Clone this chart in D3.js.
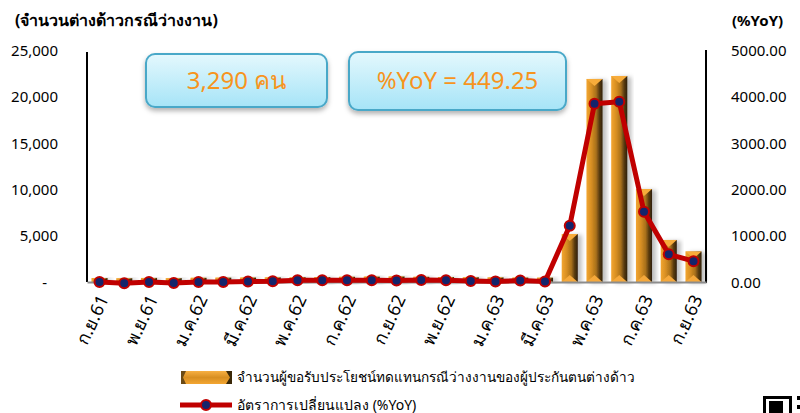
<!DOCTYPE html>
<html>
<head>
<meta charset="utf-8">
<script src="https://cdn.jsdelivr.net/npm/d3@7/dist/d3.min.js"></script>
<style>
  body { margin: 0; background: #fff; }
  svg text { font-family: Tahoma, "Noto Sans", "DejaVu Sans", sans-serif; fill: #000; }
</style>
</head>
<body>
<div class="chart-container"></div>
<script>
// months Sep 2018 - Sep 2020 (Thai abbreviations)
var months = ['ก.ย.61','ต.ค.61','พ.ย.61','ธ.ค.61','ม.ค.62','ก.พ.62','มี.ค.62','เม.ย.62','พ.ค.62','มิ.ย.62','ก.ค.62','ส.ค.62',
              'ก.ย.62','ต.ค.62','พ.ย.62','ธ.ค.62','ม.ค.63','ก.พ.63','มี.ค.63','เม.ย.63','พ.ค.63','มิ.ย.63','ก.ค.63','ส.ค.63','ก.ย.63'];
// number of foreign insured receiving unemployment benefit
var counts = [430, 410, 440, 420, 450, 470, 480, 500, 520, 540, 560, 580,
              599, 560, 540, 520, 500, 480, 470, 5170, 21880, 22200, 10020, 4530, 3290];
// %YoY
var yoy = [0, -28, 0, -22, 0, 0, 9, 15, 37, 37, 37, 37,
           30, 43, 37, 22, 9, 30, 9, 1213, 3843, 3886, 1515, 597, 449.25];
var leftTicks = [0, 5000, 10000, 15000, 20000, 25000];
var rightTicks = [0, 1000, 2000, 3000, 4000, 5000];
var labelMonths = months.filter(function(d, i) { return i % 2 === 0; });

var legendBar = 'จำนวนผู้ขอรับประโยชน์ทดแทนกรณีว่างงานของผู้ประกันตนต่างด้าว';
var legendLine = 'อัตราการเปลี่ยนแปลง (%YoY)';

var width = 800, height = 413;
var margin = {top: 50, right: 94, bottom: 131, left: 87};

var svg = d3.select('.chart-container').append('svg')
    .attr('width', width)
    .attr('height', height);

var defs = svg.append('defs');

var barGrad = defs.append('linearGradient').attr('id', 'barGrad')
    .attr('x1', '0%').attr('x2', '100%').attr('y1', '0%').attr('y2', '0%');
barGrad.append('stop').attr('offset', '0%').attr('stop-color', '#f3a632');
barGrad.append('stop').attr('offset', '30%').attr('stop-color', '#d88f22');
barGrad.append('stop').attr('offset', '60%').attr('stop-color', '#a8701c');
barGrad.append('stop').attr('offset', '80%').attr('stop-color', '#5a3c10');
barGrad.append('stop').attr('offset', '100%').attr('stop-color', '#2e1f08');

var boxGrad = defs.append('linearGradient').attr('id', 'boxGrad')
    .attr('x1', '0%').attr('x2', '0%').attr('y1', '0%').attr('y2', '100%');
boxGrad.append('stop').attr('offset', '0%').attr('stop-color', '#e4f8fd');
boxGrad.append('stop').attr('offset', '100%').attr('stop-color', '#a6e4f7');

var legGrad = defs.append('linearGradient').attr('id', 'legGrad')
    .attr('x1', '0%').attr('x2', '0%').attr('y1', '0%').attr('y2', '100%');
legGrad.append('stop').attr('offset', '0%').attr('stop-color', '#f7b043');
legGrad.append('stop').attr('offset', '50%').attr('stop-color', '#d88f22');
legGrad.append('stop').attr('offset', '100%').attr('stop-color', '#f3a632');

var shadow = defs.append('filter').attr('id', 'shadow')
    .attr('x', '-20%').attr('y', '-20%').attr('width', '160%').attr('height', '160%');
shadow.append('feDropShadow').attr('dx', 4).attr('dy', 1).attr('stdDeviation', 2)
    .attr('flood-color', '#000').attr('flood-opacity', 0.25);

var boxShadow = defs.append('filter').attr('id', 'boxShadow')
    .attr('x', '-10%').attr('y', '-20%').attr('width', '120%').attr('height', '150%');
boxShadow.append('feDropShadow').attr('dx', 0).attr('dy', 3).attr('stdDeviation', 2.5)
    .attr('flood-color', '#000').attr('flood-opacity', 0.3);

var x = d3.scaleBand().domain(months)
    .range([margin.left, width - margin.right])
    .paddingInner(0.35).paddingOuter(0.18);
var yL = d3.scaleLinear().domain([0, 25000]).range([height - margin.bottom, margin.top]);
var yR = d3.scaleLinear().domain([0, 5000]).range([height - margin.bottom, margin.top]);
var base = yL(0);

/// bars
var bars = svg.append('g').attr('class', 'bars');
var bar = bars.selectAll('.bar')
    .data(counts)
    .enter().append('g')
    .attr('class', 'bar')
    .attr('filter', 'url(#shadow)');

bar.append('rect')
    .attr('x', function(d, i) { return x(months[i]); })
    .attr('y', function(d) { return yL(d); })
    .attr('width', x.bandwidth())
    .attr('height', function(d) { return base - yL(d); })
    .attr('fill', 'url(#barGrad)');

// bevel caps top and bottom
bar.append('path')
    .attr('fill', '#f7ac3a')
    .attr('d', function(d, i) {
        var x0 = x(months[i]), w = x.bandwidth(), t = yL(d);
        var h = Math.min(7, (base - t) / 2);
        return 'M' + x0 + ',' + t + 'L' + (x0 + w) + ',' + t + 'L' + (x0 + w / 2) + ',' + (t + h) + 'Z';
    });
bar.append('path')
    .attr('fill', '#f5a83a')
    .attr('d', function(d, i) {
        var x0 = x(months[i]), w = x.bandwidth(), t = yL(d);
        var h = Math.min(7, (base - t) / 2);
        return 'M' + x0 + ',' + base + 'L' + (x0 + w) + ',' + base + 'L' + (x0 + w / 2) + ',' + (base - h) + 'Z';
    });

/// axes
var axisL = svg.append('g')
    .attr('class', 'axis axis--left')
    .attr('transform', 'translate(' + margin.left + ',0)')
    .call(d3.axisLeft(yL).tickValues(leftTicks).tickSize(0).tickPadding(29)
        .tickFormat(function(d) { return d === 0 ? '-' : d3.format(',')(d); }));
axisL.select('.domain').attr('stroke', '#000').attr('stroke-width', 2).attr('d', 'M0,' + (margin.top + 2) + 'V' + base);
axisL.selectAll('text').style('font-size', '15px').attr('dy', '0.35em');
axisL.selectAll('.tick').filter(function(d) { return d === 0; }).select('text').attr('x', -40);

var axisR = svg.append('g')
    .attr('class', 'axis axis--right')
    .attr('transform', 'translate(' + (width - margin.right) + ',0)')
    .call(d3.axisRight(yR).tickValues(rightTicks).tickSize(0).tickPadding(25)
        .tickFormat(d3.format('.2f')));
axisR.select('.domain').attr('stroke', '#000').attr('stroke-width', 2).attr('d', 'M0,' + margin.top + 'V' + (base + 1));
axisR.selectAll('text').style('font-size', '15px').attr('dy', '0.35em');

var axisB = svg.append('g')
    .attr('class', 'axis axis--x')
    .attr('transform', 'translate(0,' + base + ')')
    .call(d3.axisBottom(x).tickValues(labelMonths).tickSize(0).tickPadding(0));
axisB.select('.domain').attr('stroke', '#8c8c8c').attr('stroke-width', 2);
axisB.selectAll('text')
    .style('font-size', '18px')
    .attr('text-anchor', 'end')
    .attr('dy', '0.35em')
    .attr('transform', 'translate(4,14) rotate(-65)')
    .attr('x', 0).attr('y', 0);

/// line
var line = d3.line()
    .x(function(d, i) { return x(months[i]) + x.bandwidth() / 2; })
    .y(function(d) { return yR(d); });

svg.append('path')
    .datum(yoy)
    .attr('class', 'line')
    .attr('fill', 'none')
    .attr('stroke', '#c00000')
    .attr('stroke-width', 5)
    .attr('stroke-linejoin', 'round')
    .attr('d', line);

svg.selectAll('.dot')
    .data(yoy)
    .enter().append('circle')
    .attr('class', 'dot')
    .attr('cx', function(d, i) { return x(months[i]) + x.bandwidth() / 2; })
    .attr('cy', function(d) { return yR(d); })
    .attr('r', 5)
    .attr('fill', '#14246b')
    .attr('stroke', '#c00000')
    .attr('stroke-width', 2);

/// axis titles
svg.append('text')
    .attr('x', 15).attr('y', 26)
    .style('font-size', '16px').style('font-weight', 'bold')
    .text('(จำนวนต่างด้าวกรณีว่างงาน)');
svg.append('text')
    .attr('x', 732).attr('y', 26)
    .style('font-size', '15px').style('font-weight', 'bold')
    .text('(%YoY)');

/// call-out boxes
var lastCount = counts[counts.length - 1], lastYoy = yoy[yoy.length - 1];
var boxes = [
    {x: 146, y: 54, w: 181, h: 53, text: d3.format(',')(lastCount) + ' คน'},
    {x: 349, y: 52, w: 217, h: 58, text: '%YoY = ' + d3.format('.2f')(lastYoy)}
];
var box = svg.selectAll('.callout')
    .data(boxes)
    .enter().append('g')
    .attr('class', 'callout');
box.append('rect')
    .attr('x', function(d) { return d.x; })
    .attr('y', function(d) { return d.y; })
    .attr('width', function(d) { return d.w; })
    .attr('height', function(d) { return d.h; })
    .attr('rx', 9)
    .attr('fill', 'url(#boxGrad)')
    .attr('stroke', '#4aa8c8')
    .attr('stroke-width', 2)
    .attr('filter', 'url(#boxShadow)');
box.append('text')
    .attr('x', function(d) { return d.x + d.w / 2; })
    .attr('y', function(d) { return d.y + d.h / 2; })
    .attr('dy', '0.35em')
    .attr('text-anchor', 'middle')
    .style('font-size', '24px')
    .style('fill', '#f7941d')
    .text(function(d) { return d.text; });

/// legend
var legend = svg.append('g').attr('class', 'legend');
legend.append('rect')
    .attr('x', 181).attr('y', 371).attr('width', 51).attr('height', 13)
    .attr('fill', 'url(#legGrad)');
legend.append('path').attr('fill', '#3a2808')
    .attr('d', 'M226,371L232,371L232,384L226,384L230,377.5Z');
legend.append('path').attr('fill', '#6b4a14')
    .attr('d', 'M181,371L186,371L183,377.5L186,384L181,384Z');
legend.append('text')
    .attr('x', 237).attr('y', 377.5).attr('dy', '0.35em')
    .style('font-size', '13.6px')
    .text(legendBar);
legend.append('line')
    .attr('x1', 180).attr('x2', 232).attr('y1', 405).attr('y2', 405)
    .attr('stroke', '#c00000').attr('stroke-width', 5);
legend.append('circle')
    .attr('cx', 206).attr('cy', 405).attr('r', 5)
    .attr('fill', '#14246b').attr('stroke', '#c00000').attr('stroke-width', 2);
legend.append('text')
    .attr('x', 237).attr('y', 405).attr('dy', '0.35em')
    .style('font-size', '14px')
    .text(legendLine);

/// corner mark (partial QR code cut by the frame)
var qr = svg.append('g').attr('class', 'qr').attr('fill', '#000');
qr.append('path').attr('fill-rule', 'evenodd')
    .attr('d', 'M763,396H792V413H763Z M766,399H789V413H766Z');
qr.append('rect').attr('x', 769).attr('y', 401).attr('width', 14).attr('height', 12);
qr.append('rect').attr('x', 797).attr('y', 396).attr('width', 3).attr('height', 4);
qr.append('rect').attr('x', 797).attr('y', 405).attr('width', 3).attr('height', 4);
</script>
</body>
</html>
